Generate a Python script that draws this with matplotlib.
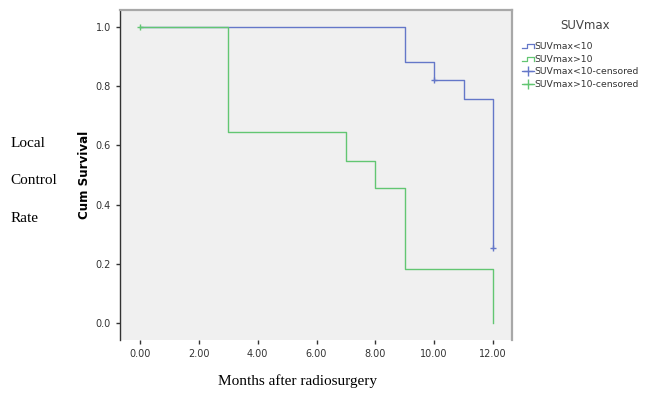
import matplotlib.pyplot as plt
from matplotlib.lines import Line2D
from matplotlib.legend_handler import HandlerBase

# survival curves (step points)
low_t = [0, 9, 10, 11, 12]
low_s = [1.0, 0.882, 0.821, 0.758, 0.253]
high_t = [0, 3, 7, 8, 9, 12]
high_s = [1.0, 0.645, 0.547, 0.456, 0.182, 0.0]

# censored points
low_cens_t = [10, 12]
low_cens_s = [0.821, 0.253]
high_cens_t = [0]
high_cens_s = [1.0]

xticks = [0, 2, 4, 6, 8, 10, 12]
yticks = [0.0, 0.2, 0.4, 0.6, 0.8, 1.0]
legend_labels = ['SUVmax<10', 'SUVmax>10', 'SUVmax<10-censored', 'SUVmax>10-censored']

blue = '#6477c8'
green = '#62c672'


class StepHandler(HandlerBase):
    def create_artists(self, legend, orig, xd, yd, w, h, fontsize, trans):
        xs = [0, w * 0.4, w * 0.4, w, w]
        ys = [h * 0.1, h * 0.1, h * 0.75, h * 0.75, h * 0.1]
        ln = Line2D(xs, ys, color=orig.get_color(), lw=0.9, transform=trans)
        return [ln]


def km(t, s, last):
    xs, ys = [], []
    for i in range(len(t)):
        xs.append(t[i]); ys.append(s[i])
        nxt = t[i + 1] if i + 1 < len(t) else last
        xs.append(nxt); ys.append(s[i])
    return xs, ys


fig = plt.figure(figsize=(6.47, 3.93), dpi=100)
ax = fig.add_axes([0.1855, 0.1349, 0.606, 0.8397])
ax.set_facecolor('#f0f0f0')

bx, by = km(low_t, low_s, 12)
gx, gy = km(high_t, high_s, 12)
ax.plot(bx[:-1], by[:-1], color=blue, lw=1.0, zorder=2)
ax.plot(gx[:-1], gy[:-1], color=green, lw=1.0, zorder=3)
ax.plot(low_cens_t, low_cens_s, '+', color=blue, ms=5, mew=1.0, zorder=4)
ax.plot(high_cens_t, high_cens_s, '+', color=green, ms=5, mew=1.0, zorder=4)

ax.set_xlim(-0.68, 12.65)
ax.set_ylim(-0.057, 1.057)
ax.set_xticks(xticks)
ax.set_xticklabels(['%.2f' % v for v in xticks])
ax.set_yticks(yticks)
ax.set_yticklabels(['%.1f' % v for v in yticks])
ax.tick_params(labelsize=7, colors='#333333', length=3, width=1)

for side in ['top', 'right']:
    ax.spines[side].set_color('#a8a8a8')
    ax.spines[side].set_linewidth(1.6)
ax.spines['left'].set_color('#333333')
ax.spines['left'].set_linewidth(1.0)
ax.spines['bottom'].set_visible(False)

ax.set_ylabel('Cum Survival', fontsize=8.6, fontweight='bold', labelpad=3)

h1 = Line2D([], [], color=blue)
h2 = Line2D([], [], color=green)
h3 = Line2D([], [], color=blue, marker='+', ms=7, lw=0.9)
h4 = Line2D([], [], color=green, marker='+', ms=7, lw=0.9)
leg = fig.legend([h1, h2, h3, h4], legend_labels,
                 loc='upper left', bbox_to_anchor=(0.800, 0.905), frameon=False,
                 fontsize=6.7, handlelength=1.3, borderpad=0,
                 handletextpad=0.05, labelspacing=0.4,
                 handler_map={h1: StepHandler(), h2: StepHandler()})
for t in leg.get_texts():
    t.set_color('#333333')
fig.text(0.905, 0.935, 'SUVmax', fontsize=8.5, color='#444444',
         ha='center', va='center')

serif = 'Liberation Serif'
fig.text(0.016, 0.636, 'Local', fontsize=11, family=serif, va='center')
fig.text(0.016, 0.540, 'Control', fontsize=11, family=serif, va='center')
fig.text(0.016, 0.445, 'Rate', fontsize=11, family=serif, va='center')
fig.text(0.46, 0.030, 'Months after radiosurgery', fontsize=11, family=serif,
         ha='center', va='center')

fig.savefig('out.png', dpi=100)
